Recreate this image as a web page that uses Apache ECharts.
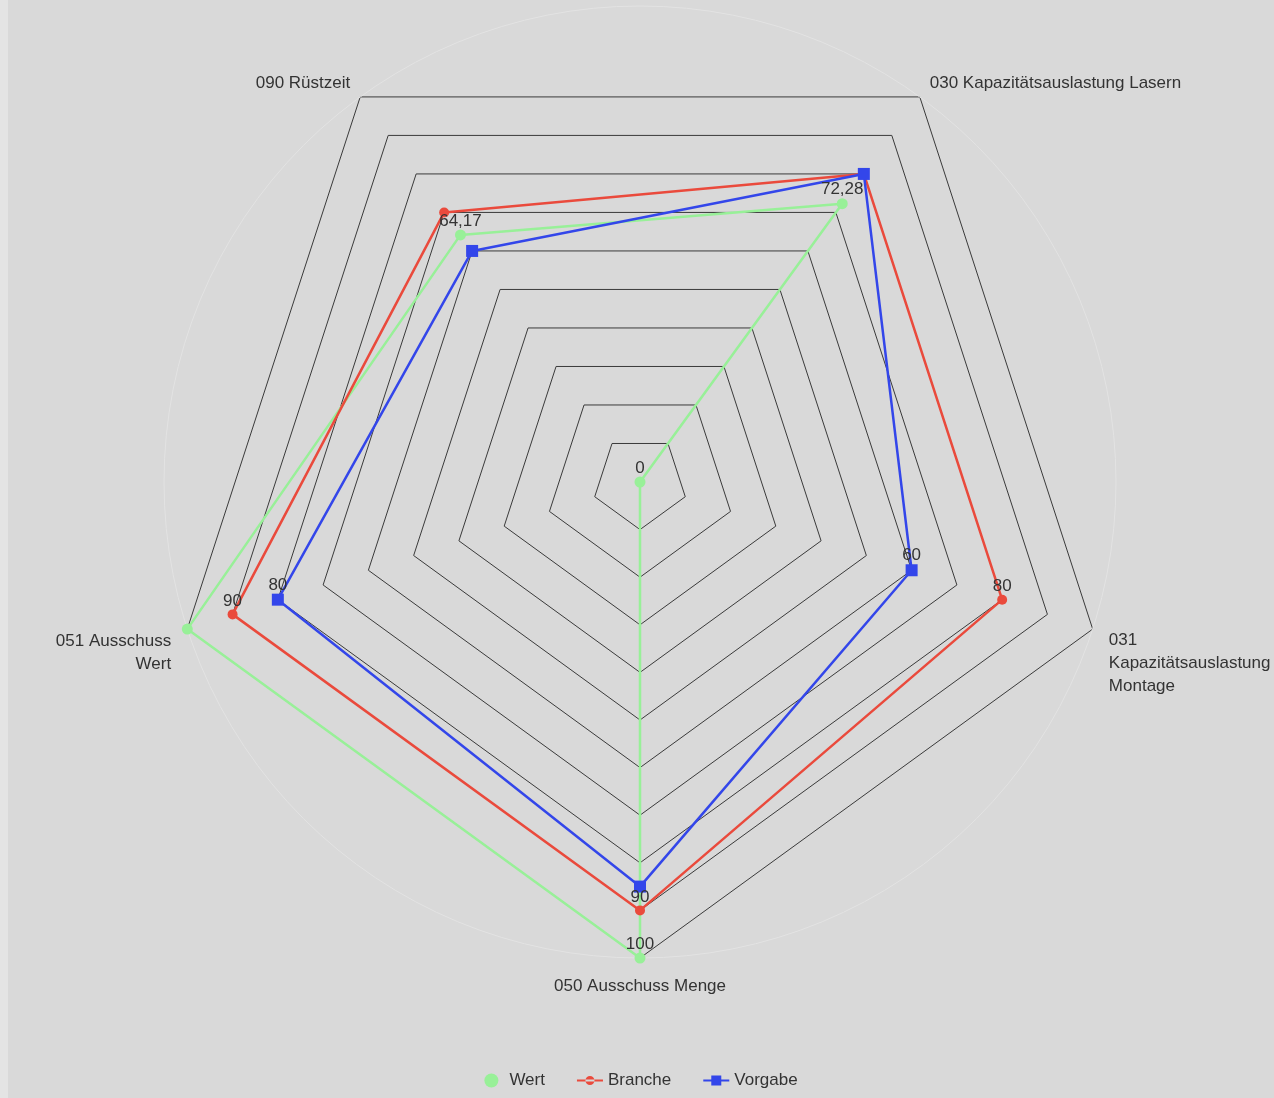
<!DOCTYPE html>
<html>
<head>
<meta charset="utf-8">
<script src="https://cdn.jsdelivr.net/npm/echarts@6/dist/echarts.min.js"></script>
<style>
  html, body { margin: 0; padding: 0; background: #e4e4e4; }
  #chart { position: absolute; left: 8px; top: 0; width: 1266px; height: 1098px; background: #d9d9d9; }
</style>
</head>
<body>
<div id="chart"></div>
<script>
// Indicators, in drawing order (counter-clockwise from the upper right corner)
const indicators = [
  '030 Kapazitätsauslastung Lasern',
  '090 Rüstzeit',
  '051 Ausschuss\nWert',
  '050 Ausschuss Menge',
  '031\nKapazitätsauslastung\nMontage'
];
const seriesNames = ['Wert', 'Branche', 'Vorgabe'];
const wertValues    = [72.28, 64.17, 100, 100, 0];
const brancheValues = [80, 70, 90, 90, 80];
const vorgabeValues = [80, 60, 80, 85, 60];
const axisMax = 100;

// which points carry a value label
const wertLabels    = [true, true, false, true, true];
const brancheLabels = [false, false, true, true, true];
const vorgabeLabels = [false, false, true, false, true];

// extra space above the side names so they hang below their corner
const nameSpacer = [0, 0, 36, 0, 58];

const colors = { Wert: '#98f098', Branche: '#ea4a3c', Vorgabe: '#3346ea' };
const fmt = v => String(v).replace('.', ',');

const chart = echarts.init(document.getElementById('chart'), null, { renderer: 'canvas' });
const center = [632, 482];
const radius = 476;
const FONT = 17;

const iconLineCircle = 'path://M0,9h26v2h-26z M8.5,10a4.5,4.5 0 1,0 9,0a4.5,4.5 0 1,0 -9,0z';
const iconLineSquare = 'path://M0,9h26v2h-26z M8,5h10v10h-10z';

const richSpacers = {};
nameSpacer.forEach((h, i) => {
  if (h) richSpacers['s' + i] = { height: h, lineHeight: h, fontSize: 1 };
});

function labelFor(flags) {
  return { show: true, formatter: p => (flags[p.dimensionIndex] ? fmt(p.value) : '') };
}

chart.setOption({
  backgroundColor: '#d9d9d9',
  textStyle: { fontFamily: 'Liberation Sans, Arial, sans-serif' },
  legend: {
    bottom: 4,
    left: 'center',
    itemWidth: 26,
    itemHeight: 14,
    itemGap: 32,
    textStyle: { fontSize: FONT, color: '#333' },
    data: [
      { name: 'Wert', icon: 'circle', itemStyle: { color: colors.Wert } },
      { name: 'Branche', icon: iconLineCircle, itemStyle: { color: colors.Branche } },
      { name: 'Vorgabe', icon: iconLineSquare, itemStyle: { color: colors.Vorgabe } }
    ]
  },
  radar: [
    {
      center: center,
      radius: radius,
      startAngle: 54,
      splitNumber: 10,
      shape: 'polygon',
      indicator: indicators.map(n => ({ name: n, min: 0, max: axisMax })),
      nameGap: 17,
      axisName: {
        color: '#333',
        fontSize: FONT,
        lineHeight: 23,
        rich: richSpacers,
        formatter: (name) => {
          const i = indicators.indexOf(name);
          return nameSpacer[i] ? '{s' + i + '| }\n' + name : name;
        }
      },
      axisLine: { show: false },
      axisTick: { show: false },
      axisLabel: { show: false },
      splitArea: { show: false },
      splitLine: { lineStyle: { color: '#3a3a3a', width: 1 } }
    },
    {
      // faint outer circle
      center: center,
      radius: radius,
      startAngle: 54,
      splitNumber: 1,
      shape: 'circle',
      indicator: indicators.map(() => ({ name: '', min: 0, max: axisMax })),
      axisName: { show: false },
      axisLine: { show: false },
      splitArea: { show: false },
      splitLine: { lineStyle: { color: '#e3e3e3', width: 1 } },
      z: 0
    }
  ],
  series: [{
    type: 'radar',
    radarIndex: 0,
    label: {
      position: 'top',
      distance: 0,
      color: '#333',
      fontSize: FONT
    },
    data: [
      {
        name: seriesNames[0],
        value: wertValues,
        symbol: 'circle',
        symbolSize: 11,
        itemStyle: { color: colors.Wert },
        lineStyle: { color: colors.Wert, width: 2.5 },
        label: labelFor(wertLabels)
      },
      {
        name: seriesNames[1],
        value: brancheValues,
        symbol: 'circle',
        symbolSize: 10,
        itemStyle: { color: colors.Branche },
        lineStyle: { color: colors.Branche, width: 2.5 },
        label: labelFor(brancheLabels)
      },
      {
        name: seriesNames[2],
        value: vorgabeValues,
        symbol: 'rect',
        symbolSize: 12,
        itemStyle: { color: colors.Vorgabe },
        lineStyle: { color: colors.Vorgabe, width: 2.5 },
        label: labelFor(vorgabeLabels)
      }
    ]
  }]
});
</script>
</body>
</html>
